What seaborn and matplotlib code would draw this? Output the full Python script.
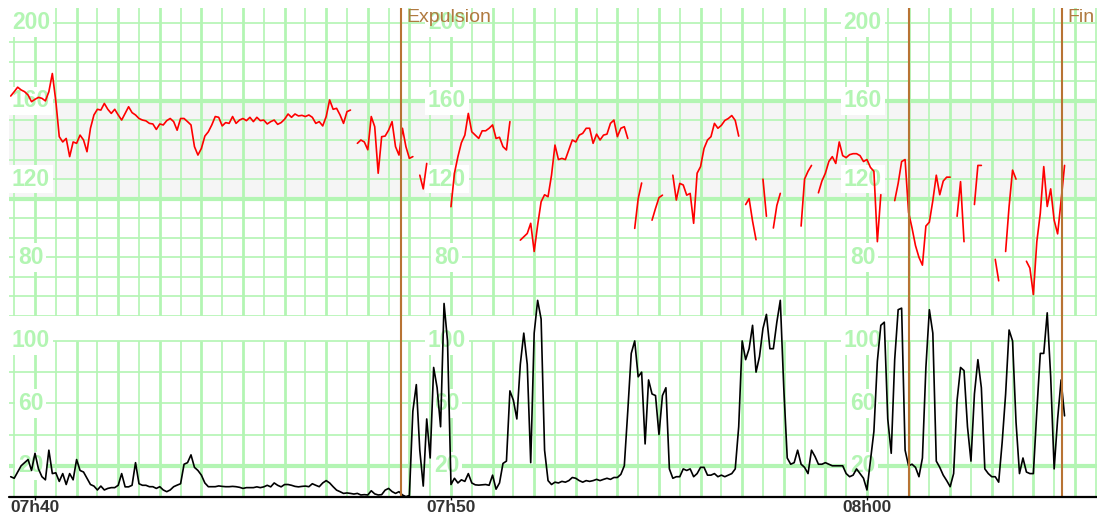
import numpy as np
import pandas as pd
import matplotlib
matplotlib.use("Agg")
import matplotlib.pyplot as plt
import seaborn as sns

nan = float("nan")

# ---- data (sampled every 5 s, first sample at 07h39m25s) ----
sample_start_s = -35
sample_step_s = 5

fhr_bpm = [
    162.5, 164.7, 167, 165.6, 164.7, 163, 159.6, 160.8, 161.8, 161.3,
    160, 164.7, 174, 160, 141.7, 139, 140.8, 131.5, 139, 138.3,
    142.5, 140, 134, 146, 152.8, 155.7, 155.3, 158.7, 155.7, 153.6,
    155.7, 152.8, 150.2, 153.6, 157, 154, 152.8, 151, 150.2, 149.8,
    148.5, 148.2, 145.4, 148.2, 147.7, 149.9, 151, 149.4, 145, 151,
    151, 149.4, 147.7, 136.6, 132.3, 135.7, 142, 144.2, 147.7, 152,
    151.6, 147.2, 148.9, 148.5, 152, 148.5, 150.2, 151, 149.9, 151.6,
    149.4, 151.6, 149.9, 150.2, 148.2, 149.4, 150.2, 148, 148.9, 150.6,
    153.3, 151.6, 153.3, 152.3, 152.6, 152, 152.8, 151.6, 148.5, 149.4,
    147.2, 152, 160.5, 155.7, 156.2, 152.8, 148.5, 154.5, 155.3, nan,
    138.3, 140, 139, 135, 152, 146.8, 123, 141.7, 142, 145,
    149.4, 136.6, 132.3, 146, 136.6, 130.6, 131.5, nan, 122, 115,
    128, nan, nan, nan, nan, nan, nan, 105.9, 123, 131.5,
    138.6, 142.5, 153.6, 144.2, 142.5, 140.8, 144.7, 144.7, 146, 147.7,
    140.8, 141.4, 136.6, 134.9, 149.4, nan, nan, 88.8, 90.5, 92.2,
    97.4, 83, 96.5, 108.4, 112, 111, 122, 137.4, 130, 130.6,
    130, 135, 140, 139, 142.5, 143.4, 146, 146, 138.3, 143,
    140, 142.5, 143, 148.5, 150.2, 141.7, 146, 146.8, 140.8, nan,
    94.8, 110, 118, nan, nan, 99, 105, 110.5, 111.8, nan,
    nan, 122, 109.3, 117.8, 117, 111.8, 112.7, 97.4, 123, 126.4,
    135.7, 140, 141.7, 148.5, 146, 147.5, 150, 151, 152.5, 150,
    142, nan, 107, 110, 98.5, 89, nan, 120, 101, nan,
    95, 106.5, 112.7, nan, nan, nan, nan, nan, 96, 120,
    124, 127, nan, 113, 119, 123, 129, 131.5, 128, 139,
    132, 131, 132.5, 133, 133, 132, 129, 130, 126, 124,
    88, 112, nan, nan, nan, 109, 117.8, 129, 130, 103,
    95, 86, 80, 76, 96, 98, 109, 122, 112, 119,
    121, 121, nan, 101, 118.7, 88, nan, nan, 107, 127,
    127, nan, nan, nan, 79, 68, nan, 83, 106, 124.6,
    120, nan, nan, 78, 74.5, 61, 88, 102.5, 126.4, 106,
    115, 99, 92, 109, 127,
]

uc_mmhg = [
    13, 12, 16, 20, 22, 24, 17, 28, 18, 13,
    11, 30, 15, 15.5, 10, 15, 8, 15, 11, 24,
    17, 16, 12, 8, 7, 4.5, 7, 4.5, 5.5, 6,
    6, 7.5, 15, 6.5, 6.5, 7.5, 22, 8.5, 7.5, 7.5,
    6.6, 6.6, 5.5, 6.6, 4.5, 3.4, 4.5, 6.6, 7.6, 8.5,
    21, 22, 27, 19, 17, 14, 9, 6.6, 6.6, 6.6,
    7.1, 6.8, 6.6, 6.6, 6.8, 6.6, 6.2, 5.5, 6, 6,
    6, 6.5, 6, 6.5, 7.5, 6.5, 9, 7.5, 6.5, 8,
    8, 7.5, 6.8, 6.5, 6.8, 7, 6.6, 8.5, 7.5, 6.6,
    9, 10.5, 9, 6.6, 4.4, 3.4, 2.3, 2.6, 2.3, 1.9,
    2.3, 1.3, 1.5, 1.3, 4, 2, 1.3, 1.5, 4.4, 5.5,
    3.5, 2.3, 3.4, 1.3, 0.2, 1, 55, 72, 30, 7,
    50, 25, 83, 70, 45, 124, 100, 8, 12, 9,
    11, 10, 15, 9, 7.8, 7.6, 7.8, 8, 7.5, 14,
    5, 9, 21.5, 23, 68, 62, 50, 85, 105, 85,
    22, 105, 126, 114, 30, 10.5, 8, 9.5, 9, 10,
    9.5, 10.5, 12.5, 12, 10.5, 9.5, 10.5, 10, 10.5, 11.3,
    10.5, 11.3, 12, 11.3, 12.5, 12.5, 14.5, 20, 55, 92,
    100, 77, 80, 34, 75, 66, 65, 40, 65, 70,
    18, 12, 13, 13, 18, 17, 18, 13, 15, 19,
    19, 14, 14, 15, 13, 14, 13, 14, 15, 18,
    45, 100, 88, 95, 110, 80, 90, 108, 117, 95,
    95, 112, 126, 70, 25, 21, 22, 30, 21, 19,
    15, 30, 26, 21, 21, 22, 21, 20, 20, 20,
    20, 15, 13, 14, 18, 15, 12, 4.5, 23, 42,
    87, 110, 112, 50, 28, 88, 120, 121, 30, 20,
    21, 19, 13, 25, 83, 120, 105, 23, 19, 14,
    10.5, 6.6, 15, 62, 83, 81, 45, 23, 66, 88,
    70, 18, 15, 13, 13, 9.5, 35, 66, 107, 100,
    48, 15, 25, 16, 15, 15, 55, 92, 92, 118,
    77, 18, 50, 75, 52,
]

event_minutes = [8.80, 21.0, 24.69]
event_labels = ["Expulsion", "", "Fin"]
time_tick_minutes = [0, 10, 20]
time_tick_labels = ["07h40", "07h50", "08h00"]
fhr_label_values = [200, 160, 120, 80]
uc_label_values = [100, 60, 20]

# ---- styling ----
sns.set_theme(style="white")
plt.rcParams["font.family"] = ["Liberation Sans", "DejaVu Sans"]

GRID = "#b3f5b3"
LABEL = "#b3f5b3"
BAND = "#f5f5f5"
EVENT = "#b87333"
EVENT_TXT = "#b07a40"

W, H = 1097, 517
fig = plt.figure(figsize=(W / 100, H / 100), dpi=100)
fig.patch.set_facecolor("white")


def rect(x0, y0, x1, y1):
    return [x0 / W, 1 - y1 / H, (x1 - x0) / W, (y1 - y0) / H]


ax_fhr = fig.add_axes(rect(9, 8, 1097, 316))
ax_uc = fig.add_axes(rect(9, 298, 1097, 497))
ax_uc.set_facecolor("none")

XLIM = (-0.625, 25.53)
half_minutes = np.arange(-0.5, 25.51, 0.5)
vline_widths = [2.0 if float(m).is_integer() else 1.2 for m in half_minutes]

# FHR panel grid
ax_fhr.axhspan(110, 160, color=BAND, lw=0, zorder=0)
for v in range(50, 201, 10):
    ax_fhr.axhline(v, color=GRID, lw=3.0 if v in (110, 160) else 1.2, zorder=1)
ax_fhr.vlines(half_minutes, 50, 210, colors=GRID, linewidths=vline_widths, zorder=1)

# UC panel grid
for v in range(20, 101, 20):
    ax_uc.axhline(v, color=GRID, lw=3.0 if v == 20 else 1.2, zorder=1)
ax_uc.vlines(half_minutes, 0, 100, colors=GRID, linewidths=vline_widths, zorder=1)
ax_uc.axhline(0, color="black", lw=1.6, zorder=5, clip_on=False)

# value labels repeated every 10 minutes
lab_kw = dict(ha="center", va="center", fontsize=16.5, fontweight="bold",
              color=LABEL, zorder=2,
              bbox=dict(boxstyle="square,pad=0.12", fc="white", ec="none"))
for tm in time_tick_minutes:
    for v in fhr_label_values:
        ax_fhr.text(tm - 0.1, v, str(v), **lab_kw)
    for v in uc_label_values:
        ax_uc.text(tm - 0.1, v, str(v), **lab_kw)

# traces
minutes = (sample_start_s + sample_step_s * np.arange(len(fhr_bpm))) / 60.0
df = pd.DataFrame({"minute": minutes, "fhr": fhr_bpm, "uc": uc_mmhg})
df["segment"] = df["fhr"].isna().cumsum()
for _, seg in df.dropna(subset=["fhr"]).groupby("segment"):
    if len(seg) > 1:
        sns.lineplot(data=seg, x="minute", y="fhr", ax=ax_fhr, color="red",
                     lw=1.2, estimator=None, sort=False, zorder=3)
sns.lineplot(data=df, x="minute", y="uc", ax=ax_uc, color="black",
             lw=1.2, estimator=None, sort=False, zorder=3)

# event markers
for m, lab in zip(event_minutes, event_labels):
    ax_fhr.axvline(m, color=EVENT, lw=1.5, zorder=4)
    ax_uc.axvline(m, color=EVENT, lw=1.5, zorder=4)
    if lab:
        ax_fhr.annotate(lab, xy=(m, 1), xycoords=("data", "axes fraction"),
                        xytext=(3.5, -0.5), textcoords="offset points",
                        ha="left", va="top", fontsize=14, color=EVENT_TXT,
                        zorder=6)

# axes cosmetics
for ax in (ax_fhr, ax_uc):
    ax.set_xlim(*XLIM)
    for s in ax.spines.values():
        s.set_visible(False)
    ax.set_ylabel("")
    ax.set_xlabel("")
    ax.set_yticks([])
ax_fhr.set_ylim(50, 207.5)
ax_uc.set_ylim(0, 127.5)
ax_fhr.set_xticks([])
ax_uc.set_xticks(time_tick_minutes)
ax_uc.set_xticklabels(time_tick_labels)
ax_uc.tick_params(axis="x", bottom=True, length=2.5, width=1, color="black",
                  pad=0, labelsize=12.5, labelcolor="#333333")
for t in ax_uc.get_xticklabels():
    t.set_fontweight("bold")

fig.savefig("out.png", dpi=100, facecolor="white")
